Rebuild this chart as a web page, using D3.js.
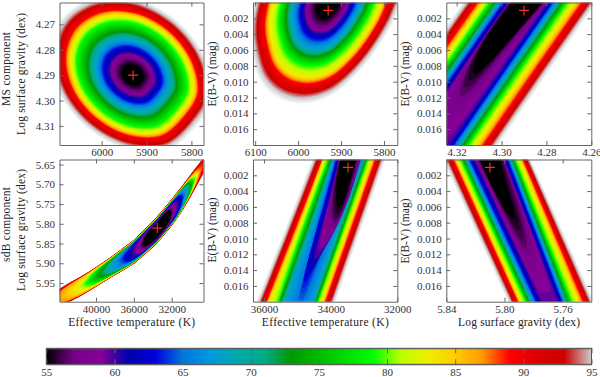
<!DOCTYPE html>
<html><head><meta charset="utf-8">
<script src="https://cdnjs.cloudflare.com/ajax/libs/d3/7.8.5/d3.min.js"></script>
<style>
html,body{margin:0;padding:0;background:#fff}
svg{display:block}
text{font-family:"Liberation Serif",serif;fill:#222}
.axis text{font-size:11px;font-family:"Liberation Serif",serif;fill:#333}
.axis path,.axis line{stroke:#666;stroke-width:1}
</style></head><body>
<svg id="c" width="600" height="377"></svg>
<script>
// colour scale
const cmapValues=[55,57,59,61,63,65,67,69,71,73,75,77,79,81,83,85,87,89,91,93,95,97.5];
const cmapColors=["#000000","#770088","#880099","#0000aa","#0000dd","#0077dd","#0099dd","#00aaaa","#00aa88","#009900","#00bb00","#00dd00","#00ff00","#bbff00","#eeee00","#ffcc00","#ff9900","#ff0000","#dd0000","#cc0000","#cccccc","#ffffff"];
const barTicks=[55,60,65,70,75,80,85,90,95];

// panel A: MS Teff vs log g
const aCenter=[5930,4.29];
const aOutlineT=[5793,5855,5944,6031,6092,6110,6081,6012,5923,5836,5775,5757];
const aOutlineG=[4.3095,4.3187,4.3183,4.3100,4.2963,4.2807,4.2676,4.2603,4.2607,4.2689,4.2827,4.2983];
const aLevels=[55,57,59,63,67,73,79,83,89,95];
const aScales=[.14,.23,.27,.37,.45,.565,.70,.775,.84,.98];

// panel B: MS Teff vs E(B-V)
const bCenter=[5930,.0001];
const bOutlineT=[5756,5771,5810,5864,5926,5988,6043,6081,6101,6109,6097,6070,5930];
const bOutlineE=[-.0029,.0009,.0049,.0087,.0115,.0124,.0117,.0098,.0068,.0035,-.0003,-.0033,-.0058];
const bLevels=[55,57,59,63,67,73,79,83,89,95];
const bScales=[.16,.25,.29,.37,.46,.55,.65,.76,.83,.98];

// panels C, E, F: contour rows [top left, mid left, end left, end right, mid right, top right, end E(B-V)]
const cLevels=[55,55.7,57,60,63,67,73,79,83,89,95];
const cRows=[
[4.2923,4.3057,4.3119,4.3119,4.2941,4.2789,.0090],
[4.2930,4.3077,4.3149,4.3149,4.2956,4.2782,.0102],
[4.2938,4.3107,4.3193,4.3193,4.2978,4.2777,.0128],
[4.2945,4.3192,4.3434,4.3256,4.3013,4.2767,.019],
[4.2965,4.3211,4.3453,4.3238,4.2996,4.2749,.019],
[4.2982,4.3229,4.3471,4.3218,4.2976,4.2730,.019],
[4.3005,4.3251,4.3493,4.3193,4.2951,4.2705,.019],
[4.3030,4.3276,4.3518,4.3169,4.2927,4.2681,.019],
[4.3057,4.3303,4.3545,4.3137,4.2895,4.2648,.019],
[4.3083,4.3330,4.3572,4.3103,4.2861,4.2614,.019],
[4.3131,4.3377,4.3619,4.3055,4.2813,4.2567,.019]];

const eLevels=[55,55.7,57,60,63,65,67,73,79,83,89,95];
const eRows=[
[33620,33810,33750,33750,33410,33180,.0062],
[33650,33860,33810,33810,33410,33150,.0072],
[33680,33930,33930,33930,33410,33110,.0085],
[33710,34080,34450,34450,33530,33060,.0125],
[33760,34310,34780,34780,33880,33010,.0155],
[33810,34430,35030,34830,33930,32970,.0185],
[33840,34580,35430,34630,33830,32940,.019],
[33910,34740,35600,34530,33680,32870,.019],
[33990,34860,35650,34460,33630,32800,.019],
[34120,34990,35930,34340,33510,32680,.019],
[34170,35090,36030,34230,33400,32570,.019],
[34390,35310,36250,34010,33180,32350,.019]];

const fLevels=[55,55.7,57,60,63,67,73,79,83,89,95];
const fRows=[
[5.8188,5.8092,5.7935,5.7935,5.7985,5.8043,.0075],
[5.8202,5.8062,5.7889,5.7889,5.7950,5.8037,.0095],
[5.8216,5.8039,5.7832,5.7832,5.7894,5.8027,.0123],
[5.8235,5.7979,5.7723,5.7608,5.7816,5.8024,.019],
[5.8263,5.8009,5.7755,5.7585,5.7793,5.8001,.019],
[5.8286,5.8033,5.7780,5.7566,5.7774,5.7982,.019],
[5.8304,5.8056,5.7808,5.7543,5.7755,5.7966,.019],
[5.8327,5.8079,5.7831,5.7516,5.7732,5.7948,.019],
[5.8355,5.8110,5.7865,5.7470,5.7694,5.7918,.019],
[5.8378,5.8131,5.7884,5.7433,5.7664,5.7895,.019],
[5.8431,5.8183,5.7934,5.7378,5.7617,5.7856,.019]];

// panel D: sdB Teff vs log g, ridge of the valley and contour extents
const dSpineT=[45877,43831,41291,38822,36000,33531,31414,30004,28769,27182];
const dSpineG=[6.016,5.9865,5.9544,5.9165,5.8717,5.8160,5.7544,5.7038,5.6574,5.5983];
const dSpineHalf=[.0295,.0295,.0253,.0253,.0304,.0338,.0338,.0295,.0253,.0253];
const dLevels=[55,58,61,67,73,79,83,87,95];
const dStart=[4.4,4.21,3.81,3.19,2.64,2.07,1.61,.76,0];
const dEnd=[5.7,5.83,6.25,6.70,7.06,7.34,7.57,7.86,9];
const dWidth=[.55,.65,.72,.78,.82,.86,.89,.93,1];

// best-fit marks
const plusA=[5930,4.29], plusB=[5930,.001], plusC=[4.29,.001];
const plusD=[33524,5.811], plusE=[33480,.001], plusF=[5.81,.001];

// axis ticks
const aTicksX=[6000,5900,5800], aTicksY=[4.27,4.28,4.29,4.30,4.31];
const bTicksX=[6100,6000,5900,5800];
const ebvTicks=[.002,.004,.006,.008,.010,.012,.014,.016];
const cTicksX=[4.32,4.30,4.28,4.26];
const dTicksX=[40000,36000,32000], dTicksY=[5.65,5.70,5.75,5.80,5.85,5.90,5.95];
const eTicksX=[36000,34000,32000];
const fTicksX=[5.84,5.80,5.76];

const svg=d3.select("#c");
const color=d3.scaleLinear().domain(cmapValues).range(cmapColors).clamp(true);
const defs=svg.append("defs");
defs.append("filter").attr("id","soft").attr("x","-5%").attr("y","-5%").attr("width","110%").attr("height","110%")
  .attr("color-interpolation-filters","sRGB")
  .append("feGaussianBlur").attr("stdDeviation",.6);

const scaleRings=(c,xs,ys,scales)=>scales.map(s=>xs.map((x,i)=>[c[0]+s*(x-c[0]),c[1]+s*(ys[i]-c[1])]));
const sideT=d3.range(0,12.001).map(k=>1-Math.pow(1-k/12,2));
const quad=(a,b,c,t)=>a*(2*t-1)*(t-1)+b*4*t*(1-t)+c*t*(2*t-1);
const rowRings=rows=>rows.map(r=>{
  const top=-.001,end=r[6];
  const e=t=>top+(end-top)*t;
  const c0=(r[0]+r[5])/2,c1=(r[1]+r[4])/2,c2=(r[2]+r[3])/2;
  const w0=(r[5]-r[0])/2,w1=(r[4]-r[1])/2,w2=(r[3]-r[2])/2;
  const tongue=r[2]===r[3];
  const half=t=>tongue?quad(w0,w1,.6*w1,t)*Math.sqrt(Math.max(0,1-Math.pow(t,6))):quad(w0,w1,w2,t);
  const mid=t=>quad(c0,c1,c2,t);
  return [...sideT.map(t=>[mid(t)-half(t),e(t)]),
          ...sideT.slice().reverse().map(t=>[mid(t)+half(t),e(t)])];
});
const spineIdx=dSpineT.map((_,i)=>i);
const spT=d3.scaleLinear().domain(spineIdx).range(dSpineT);
const spG=d3.scaleLinear().domain(spineIdx).range(dSpineG);
const spH=d3.scaleLinear().domain(spineIdx).range(dSpineHalf);
const dSamples=d3.range(-1,1.0001,.1);
const bananaRings=dLevels.map((_,k)=>{
  const pt=(u,sign)=>{
    const s=dStart[k]+(dEnd[k]-dStart[k])*(u+1)/2;
    const h=dWidth[k]*spH(s)*Math.sqrt(Math.max(0,1-u*u*u*u));
    return [spT(s),spG(s)+sign*h];
  };
  return [...dSamples.map(u=>pt(u,-1)),...dSamples.slice(1,-1).reverse().map(u=>pt(u,1))];
});

function panel(o){
  const [x0,x1]=o.px,[y0,y1]=o.py;
  const x=d3.scaleLinear().domain(o.dx).range([x0,x1]);
  const y=d3.scaleLinear().domain(o.dy).range([y0,y1]);
  const id="clip"+o.id;
  defs.append("clipPath").attr("id",id).append("rect").attr("x",x0).attr("y",y0).attr("width",x1-x0).attr("height",y1-y0);
  const outer=svg.append("g").attr("clip-path",`url(#${id})`);
  const g=outer.append("g").attr("filter","url(#soft)");
  const line=d3.line().x(d=>x(d[0])).y(d=>y(d[1])).curve(o.curve);
  const L=o.levels,R=o.rings,n=L.length;
  const at=v=>{
    let k=d3.bisectRight(L,v)-1;
    k=Math.max(0,Math.min(n-2,k));
    const t=(v-L[k])/(L[k+1]-L[k]);
    return R[k].map((p,i)=>[p[0]+(R[k+1][i][0]-p[0])*t,p[1]+(R[k+1][i][1]-p[1])*t]);
  };
  const vals=d3.range(97.5,L[0]-.001,-.5);
  g.selectAll("path").data(vals).join("path")
    .attr("d",v=>line(at(v))).attr("fill",v=>color(v));
  const fmtX=d3.format(o.fx),fmtY=d3.format(o.fy);
  svg.append("g").attr("class","axis").attr("transform",`translate(0,${y1})`)
    .call(d3.axisBottom(x).tickValues(o.tx).tickFormat(fmtX).tickSizeInner(-4).tickSizeOuter(0).tickPadding(3.6));
  svg.append("g").attr("class","axis").attr("transform",`translate(0,${y0})`)
    .call(d3.axisTop(x).tickValues(o.tx).tickFormat("").tickSizeInner(-4).tickSizeOuter(0));
  svg.append("g").attr("class","axis").attr("transform",`translate(${x0},0)`)
    .call(d3.axisLeft(y).tickValues(o.ty).tickFormat(fmtY).tickSizeInner(-4).tickSizeOuter(0).tickPadding(4.5));
  svg.append("g").attr("class","axis").attr("transform",`translate(${x1},0)`)
    .call(d3.axisRight(y).tickValues(o.ty).tickFormat("").tickSizeInner(-4).tickSizeOuter(0));
  const px=x(o.plus[0]),py=y(o.plus[1]);
  svg.append("path").attr("d",d3.line()([[px-5,py],[px+5,py]])+d3.line()([[px,py-5],[px,py+5]]))
    .attr("stroke","#ff2a2a").attr("stroke-width",1.1).attr("fill","none");
}
const rowTop=[2.5,145], rowBot=[159.5,301.7];
const colA=[59.5,203.5], colB=[253,397.3], colC=[446.3,591.3];
panel({id:"A",px:colA,py:rowTop,dx:[6094,5773],dy:[4.2614,4.3175],levels:aLevels,rings:scaleRings(aCenter,aOutlineT,aOutlineG,aScales),curve:d3.curveCatmullRomClosed,tx:aTicksX,ty:aTicksY,fx:"d",fy:".2f",plus:plusA});
panel({id:"B",px:colB,py:rowTop,dx:[6105,5769],dy:[0,.018],levels:bLevels,rings:scaleRings(bCenter,bOutlineT,bOutlineE,bScales),curve:d3.curveCatmullRomClosed,tx:bTicksX,ty:ebvTicks,fx:"d",fy:".3f",plus:plusB});
panel({id:"C",px:colC,py:rowTop,dx:[4.3246,4.26],dy:[0,.018],levels:cLevels,rings:rowRings(cRows),curve:d3.curveLinearClosed,tx:cTicksX,ty:ebvTicks,fx:".2f",fy:".3f",plus:plusC});
panel({id:"D",px:colA,py:rowBot,dx:[43860,28635],dy:[5.6373,5.9973],levels:dLevels,rings:bananaRings,curve:d3.curveLinearClosed,tx:dTicksX,ty:dTicksY,fx:"d",fy:".2f",plus:plusD});
panel({id:"E",px:colB,py:rowBot,dx:[36330,32000],dy:[0,.018],levels:eLevels,rings:rowRings(eRows),curve:d3.curveLinearClosed,tx:eTicksX,ty:ebvTicks,fx:"d",fy:".3f",plus:plusE});
panel({id:"F",px:colC,py:rowBot,dx:[5.84,5.7403],dy:[0,.018],levels:fLevels,rings:rowRings(fRows),curve:d3.curveLinearClosed,tx:fTicksX,ty:ebvTicks,fx:".2f",fy:".3f",plus:plusF});

// axis titles
const vLabel=(t,x,cy,len)=>svg.append("text").attr("transform",`translate(${x},${cy}) rotate(-90)`)
  .attr("text-anchor","middle").attr("font-size",11.5).attr("textLength",len).attr("lengthAdjust","spacing").text(t);
const hLabel=(t,cx,y,len)=>svg.append("text").attr("x",cx).attr("y",y)
  .attr("text-anchor","middle").attr("font-size",11.5).attr("textLength",len).attr("lengthAdjust","spacing").text(t);
vLabel("MS component",10,69,74);
vLabel("Log surface gravity (dex)",25,74,122);
vLabel("sdB component",10,224.5,75);
vLabel("Log surface gravity (dex)",25,230,122);
vLabel("E(B-V) (mag)",215.5,74,65);
vLabel("E(B-V) (mag)",408.5,74,65);
vLabel("E(B-V) (mag)",215.5,230,65);
vLabel("E(B-V) (mag)",408.5,231,65);
hLabel("Effective temperature (K)",131.7,326,127);
hLabel("Effective temperature (K)",325.3,326,127);
hLabel("Log surface gravity (dex)",519,326,122);

// colour bar
const bar=d3.scaleLinear().domain([55,95]).range([46.3,591.5]);
const grad=defs.append("linearGradient").attr("id","barGrad");
grad.selectAll("stop").data(cmapValues.filter(v=>v<=95)).join("stop")
  .attr("offset",v=>(v-55)/40).attr("stop-color",v=>color(v));
svg.append("rect").attr("x",bar(55)).attr("y",348.3).attr("width",bar(95)-bar(55)).attr("height",16).attr("fill","url(#barGrad)");
svg.append("g").attr("class","axis").attr("transform","translate(0,364.3)")
  .call(d3.axisBottom(bar).tickValues(barTicks).tickFormat(d3.format("d")).tickSizeInner(-5).tickSizeOuter(0).tickPadding(4));
svg.append("g").attr("class","axis").attr("transform","translate(0,348.3)")
  .call(d3.axisTop(bar).tickValues(barTicks).tickFormat("").tickSizeInner(-5).tickSizeOuter(0));
svg.append("rect").attr("x",bar(55)).attr("y",348.3).attr("width",bar(95)-bar(55)).attr("height",16).attr("fill","none").attr("stroke","#555");
</script>
</body></html>
